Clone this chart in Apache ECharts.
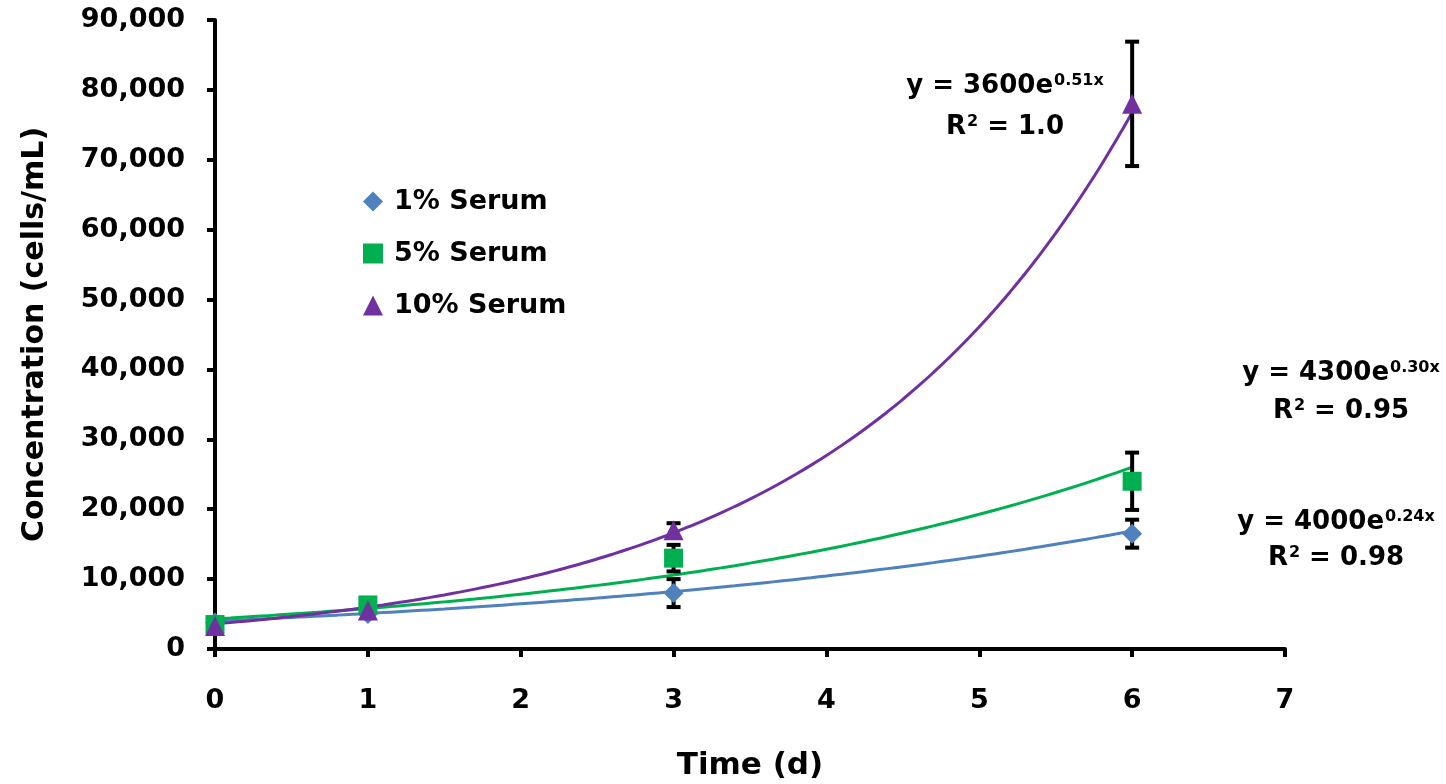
<!DOCTYPE html>
<html>
<head>
<meta charset="utf-8">
<title>Cell concentration vs time</title>
<script src="https://cdn.jsdelivr.net/npm/echarts@6/dist/echarts.min.js"></script>
<style>
  html, body { margin: 0; padding: 0; background: #fff; }
  #chart { width: 1446px; height: 784px; }
</style>
</head>
<body>
<div id="chart"></div>
<script>
// measured days
const days = [0, 1, 3, 6];

// mean concentrations (cells/mL)
const serum1 = [3800, 5000, 8000, 16500];
const serum5 = [3500, 6300, 13000, 24000];
const serum10 = [3300, 5500, 17000, 78000];

// +/- error bar half-heights
const serum1Err = [0, 0, 2000, 2000];
const serum5Err = [0, 0, 1900, 4100];
const serum10Err = [0, 0, 1000, 8900];

// exponential fits shown on the chart: y = a * e^(b x)
const seriesNames = ["1% Serum", "5% Serum", "10% Serum"];
const fitA = [4000, 4300, 3600];
const fitB = [0.24, 0.30, 0.51];
const fitR2 = ["0.98", "0.95", "1.0"];

const colors = ["#4f81bd", "#00b050", "#7030a0"];
const symbols = ["diamond", "rect", "triangle"];

const FONT = "DejaVu Sans";

function pairs(vals) {
  return days.map((d, i) => [d, vals[i]]);
}

function errData(vals, errs) {
  return days
    .map((d, i) => [d, vals[i] - errs[i], vals[i] + errs[i]])
    .filter((r, i) => errs[i] > 0);
}

function fitCurve(a, b) {
  const pts = [];
  for (let i = 0; i <= 60; i++) {
    const x = i / 10;
    pts.push([x, a * Math.exp(b * x)]);
  }
  return pts;
}

function renderErr(params, api) {
  const x = api.value(0);
  const lo = api.coord([x, api.value(1)]);
  const hi = api.coord([x, api.value(2)]);
  const cap = 7;
  const style = { stroke: "#000", lineWidth: 4 };
  return {
    type: "group",
    children: [
      { type: "line", shape: { x1: lo[0], y1: lo[1], x2: hi[0], y2: hi[1] }, style: style },
      { type: "line", shape: { x1: lo[0] - cap, y1: lo[1], x2: lo[0] + cap, y2: lo[1] }, style: style },
      { type: "line", shape: { x1: hi[0] - cap, y1: hi[1], x2: hi[0] + cap, y2: hi[1] }, style: style },
    ],
  };
}

const allVals = [serum1, serum5, serum10];
const allErrs = [serum1Err, serum5Err, serum10Err];

const series = [];
for (let k = 0; k < 3; k++) {
  series.push({
    name: seriesNames[k] + " fit",
    type: "line",
    data: fitCurve(fitA[k], fitB[k]),
    showSymbol: false,
    smooth: true,
    lineStyle: { color: colors[k], width: 3 },
    z: 2,
    silent: true,
  });
}
for (let k = 0; k < 3; k++) {
  series.push({
    name: seriesNames[k] + " err",
    type: "custom",
    renderItem: renderErr,
    data: errData(allVals[k], allErrs[k]),
    z: 3,
    silent: true,
  });
}
for (let k = 0; k < 3; k++) {
  series.push({
    name: seriesNames[k],
    type: "scatter",
    data: pairs(allVals[k]),
    symbol: symbols[k],
    symbolSize: k === 1 ? 19 : 20,
    itemStyle: { color: colors[k], opacity: 1 },
    z: 4,
  });
}

const eqRich = {
  b: { fontFamily: FONT, fontWeight: "bold", fontSize: 26, color: "#000", lineHeight: 30 },
  s: { fontFamily: FONT, fontWeight: "bold", fontSize: 16, color: "#000", lineHeight: 18, verticalAlign: "top", padding: [2, 0, 0, 1] },
};

// equation label centres (pixels), one per fit
const eqPos = [[1336, 522, 558], [1341, 373, 411], [1005, 86, 127]];

const graphics = [];
for (let k = 0; k < 3; k++) {
  const p = eqPos[k];
  graphics.push({
    type: "text", x: p[0], y: p[1],
    style: { text: "{b|y = " + fitA[k] + "e}{s|" + fitB[k].toFixed(2) + "x}", rich: eqRich, align: "center", verticalAlign: "middle" },
  });
  graphics.push({
    type: "text", x: p[0], y: p[2],
    style: { text: "{b|R}{s|2}{b| = " + fitR2[k] + "}", rich: eqRich, align: "center", verticalAlign: "middle" },
  });
}

const chart = echarts.init(document.getElementById("chart"));
chart.setOption({
  backgroundColor: "#fff",
  animation: false,
  grid: { left: 215, right: 161, top: 20, bottom: 135, containLabel: false, outerBoundsMode: "none" },
  legend: {
    orient: "vertical",
    left: 358,
    top: 183,
    itemGap: 25,
    itemWidth: 20,
    itemHeight: 20,
    data: seriesNames,
    textStyle: { fontFamily: FONT, fontWeight: "bold", fontSize: 27, color: "#000", padding: [0, 0, 0, 6] },
  },
  xAxis: {
    type: "value",
    min: 0,
    max: 7,
    interval: 1,
    name: "Time (d)",
    nameLocation: "middle",
    nameGap: 101,
    nameTextStyle: { fontFamily: FONT, fontWeight: "bold", fontSize: 31, color: "#000" },
    splitLine: { show: false },
    axisLine: { onZero: false, lineStyle: { color: "#000", width: 4 } },
    axisTick: { length: 8, lineStyle: { color: "#000", width: 4 } },
    axisLabel: { margin: 38, fontFamily: FONT, fontWeight: "bold", fontSize: 27, color: "#000" },
  },
  yAxis: {
    type: "value",
    min: 0,
    max: 90000,
    interval: 10000,
    name: "Concentration (cells/mL)",
    nameLocation: "middle",
    nameGap: 165,
    nameTextStyle: { fontFamily: FONT, fontWeight: "bold", fontSize: 30, color: "#000" },
    splitLine: { show: false },
    axisLine: { show: true, lineStyle: { color: "#000", width: 4 } },
    axisTick: { show: true, length: 8, lineStyle: { color: "#000", width: 4 } },
    axisLabel: {
      margin: 30,
      fontFamily: FONT,
      fontWeight: "bold",
      fontSize: 27,
      color: "#000",
      formatter: (v) => v.toLocaleString("en-US"),
    },
  },
  graphic: graphics,
  series: series,
});
</script>
</body>
</html>
